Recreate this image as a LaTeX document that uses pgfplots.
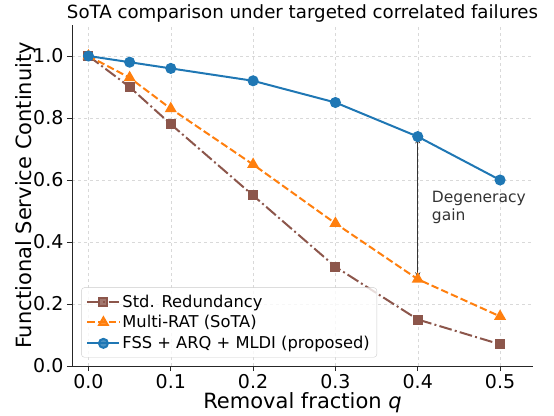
\documentclass[border=0pt]{standalone}
\usepackage{fontspec}
\setmainfont{DejaVu Sans}
\usepackage{pgfplots}
\pgfplotsset{compat=1.18}
\usetikzlibrary{arrows.meta}

\definecolor{tabblue}{HTML}{1F77B4}
\definecolor{taborange}{HTML}{FF7F0E}
\definecolor{tabbrown}{HTML}{8C564B}
\definecolor{annot}{HTML}{333333}

\begin{document}
\begin{tikzpicture}
\useasboundingbox (-72pt,-49pt) rectangle (482pt,366pt);
\begin{axis}[
    at={(0pt,0pt)}, anchor=south west,
    scale only axis,
    width=461pt, height=341pt,
    xmin=-0.02, xmax=0.54,
    ymin=0, ymax=1.1,
    axis x line*=bottom, axis y line*=left,
    axis line style={line width=0.8pt, black!85},
    xtick={0,0.1,0.2,0.3,0.4,0.5},
    ytick={0,0.2,0.4,0.6,0.8,1.0},
    xticklabel style={/pgf/number format/.cd, fixed, fixed zerofill, precision=1},
    yticklabel style={/pgf/number format/.cd, fixed, fixed zerofill, precision=1},
    /pgf/number format/assume math mode=true,
    tick align=outside,
    tick style={line width=0.8pt, black!85},
    major tick length=5pt,
    ticklabel style={font=\fontsize{19}{22}\selectfont},
    grid=major,
    major grid style={dashed, line width=0.5pt, black!15},
    title={SoTA comparison under targeted correlated failures},
    title style={font=\fontsize{18.2}{21}\selectfont, yshift=-7pt},
    xlabel={Removal fraction \textit{q}},
    ylabel={Functional Service Continuity},
    label style={font=\fontsize{21}{25}\selectfont},
    xlabel style={yshift=3pt},
    ylabel style={yshift=-9pt},
    legend cell align=left,
    legend style={at={(0.02,0.025)}, anchor=south west,
        font=\fontsize{16.3}{19}\selectfont,
        draw=black!20, rounded corners=3pt, fill=white, fill opacity=0.8, text opacity=1,
        row sep=3pt, inner sep=5pt},
    legend image code/.code={
        \draw[mark repeat=2, mark phase=2, #1]
            plot coordinates {(0pt,0pt) (16pt,0pt) (32pt,0pt)};
    },
]
\addplot[color=tabbrown, line width=2pt, dash pattern=on 12.8pt off 3.2pt on 2pt off 3.2pt,
    mark=square*, mark size=4pt, mark options={solid}] coordinates {
    (0,1.00) (0.05,0.90) (0.1,0.78) (0.2,0.55) (0.3,0.32) (0.4,0.15) (0.5,0.07)
};
\addlegendentry{Std. Redundancy}
\addplot[color=taborange, line width=2pt, dash pattern=on 7.4pt off 3.2pt,
    mark=triangle*, mark size=5pt, mark options={solid}] coordinates {
    (0,1.00) (0.05,0.93) (0.1,0.83) (0.2,0.65) (0.3,0.46) (0.4,0.28) (0.5,0.16)
};
\addlegendentry{Multi-RAT (SoTA)}
\addplot[color=tabblue, line width=2pt, mark=*, mark size=4.5pt] coordinates {
    (0,1.00) (0.05,0.98) (0.1,0.96) (0.2,0.92) (0.3,0.85) (0.4,0.74) (0.5,0.60)
};
\addlegendentry{FSS + ARQ + MLDI (proposed)}
\draw[annot, line width=1.3pt, {Stealth[length=7pt,width=5pt]}-{Stealth[length=7pt,width=5pt]}]
    (axis cs:0.4,0.74) -- (axis cs:0.4,0.28);
\node[annot, anchor=west, align=left, font=\fontsize{15.5}{18}\selectfont]
    at (axis cs:0.413,0.51) {Degeneracy\\gain};
\end{axis}
\end{tikzpicture}
\end{document}
